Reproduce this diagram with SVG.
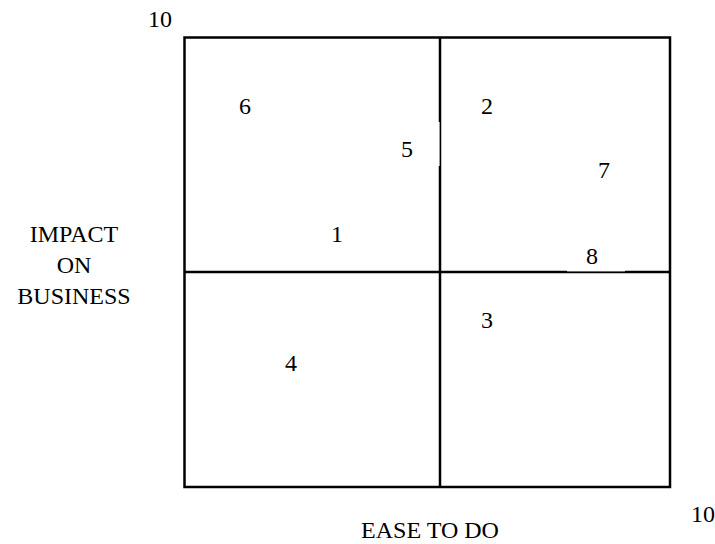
<svg xmlns="http://www.w3.org/2000/svg" width="715" height="544" viewBox="0 0 715 544">
<style>
text{font-family:'Liberation Serif','Times New Roman',Times,serif;font-size:24px;fill:#000;text-anchor:middle}
.ln{stroke:#000;stroke-width:2.5;fill:none}
</style>
<rect x="0" y="0" width="715" height="544" fill="#fff"/>
<g id="grid">
<rect class="ln" x="184.5" y="37.5" width="485.5" height="449.5"/>
<line class="ln" x1="440" y1="37.5" x2="440" y2="487"/>
<line class="ln" x1="184.5" y1="272" x2="670" y2="272"/>
<rect x="437" y="122" width="2.6" height="44" fill="#fff"/>
<rect x="567" y="269" width="58" height="2.4" fill="#fff"/>
</g>
<g id="axis-labels" font-family="Liberation Serif, serif">
<text x="160" y="27">10</text>
<text x="703" y="522">10</text>
<text x="74" y="242">IMPACT</text>
<text x="74" y="273">ON</text>
<text x="74" y="304">BUSINESS</text>
<text x="430" y="538">EASE TO DO</text>
</g>
<g id="item-1"><text x="337" y="242">1</text></g>
<g id="item-2"><text x="487" y="114">2</text></g>
<g id="item-3"><text x="487" y="328">3</text></g>
<g id="item-4"><text x="291" y="371">4</text></g>
<g id="item-5"><text x="407" y="157">5</text></g>
<g id="item-6"><text x="245" y="114">6</text></g>
<g id="item-7"><text x="604" y="178">7</text></g>
<g id="item-8"><text x="592" y="264">8</text></g>
</svg>
